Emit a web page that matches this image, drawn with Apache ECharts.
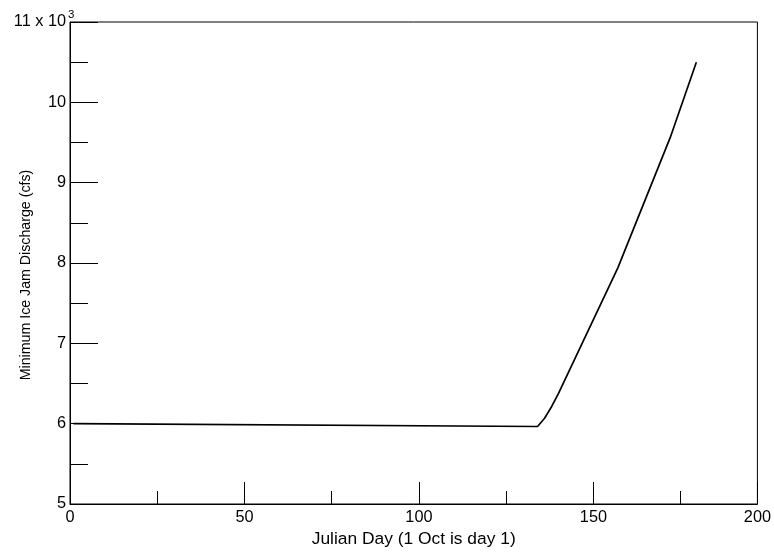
<!DOCTYPE html>
<html>
<head>
<meta charset="utf-8">
<script src="https://cdn.jsdelivr.net/npm/echarts@6/dist/echarts.min.js"></script>
<style>html,body{margin:0;padding:0;background:#fff}#c{width:774px;height:553px}</style>
</head>
<body>
<div id="c"></div>
<script>
var days = [1, 134, 136, 138, 140, 157, 172, 179.5];
var discharge = [6000, 5965, 6067, 6211, 6378, 7940, 9560, 10500];
var xTickLabels = ['0', '50', '100', '150', '200'];
var yTickLabels = ['5', '6', '7', '8', '9', '10', '11 x 10'];
var yExponent = '3';
var xTitle = 'Julian Day (1 Oct is day 1)';
var yTitle = 'Minimum Ice Jam Discharge (cfs)';

var chart = echarts.init(document.getElementById('c'));
var font = 'Liberation Sans, Arial, sans-serif';
var X_MAX = 197;
chart.setOption({
  animation: false,
  backgroundColor: '#fff',
  grid: { left: 70, right: 15, top: 22, bottom: 49, show: true, borderColor: '#000', borderWidth: 1, containLabel: false },
  xAxis: [{
    type: 'value', min: 0, max: X_MAX, interval: 50,
    name: xTitle, nameLocation: 'middle', nameGap: 25,
    nameTextStyle: { fontFamily: font, fontSize: 17.4, color: '#000' },
    axisLine: { show: true, lineStyle: { color: '#000', width: 1 } },
    axisTick: { show: true, inside: true, length: 22, lineStyle: { color: '#000', width: 1 } },
    axisLabel: { fontFamily: font, fontSize: 16.3, color: '#000', margin: 6, showMaxLabel: true, showMinLabel: true,
      formatter: function (v, i) { return xTickLabels[i] !== undefined ? xTickLabels[i] : ''; } },
    splitLine: { show: false }
  }, {
    type: 'value', min: 0, max: X_MAX, interval: 25, position: 'bottom',
    axisLine: { show: false },
    axisTick: { show: true, inside: true, length: 13, lineStyle: { color: '#000', width: 1 } },
    axisLabel: { show: false },
    splitLine: { show: false }
  }],
  yAxis: {
    type: 'value', min: 5000, max: 11000, interval: 1000,
    axisLine: { show: true, lineStyle: { color: '#000', width: 1 } },
    axisTick: { show: true, inside: true, length: 28, lineStyle: { color: '#000', width: 1 } },
    minorTick: { show: true, splitNumber: 2, length: 18, lineStyle: { color: '#000', width: 1 } },
    axisLabel: { fontFamily: font, fontSize: 16.3, color: '#000', margin: 4,
      formatter: function (v, i) { return yTickLabels[i]; } },
    splitLine: { show: false }
  },
  graphic: [
    { type: 'text', left: 68, top: 9, style: { text: yExponent, font: '11.5px ' + font, fill: '#000' } },
    { type: 'text', x: 26, y: 275, rotation: Math.PI / 2,
      style: { text: yTitle, font: '14.2px ' + font, fill: '#000', align: 'center', verticalAlign: 'middle' } }
  ],
  series: [{
    type: 'line', xAxisIndex: 0,
    data: days.map(function (d, i) { return [d, discharge[i]]; }),
    showSymbol: false, symbol: 'none',
    lineStyle: { color: '#000', width: 1.7 }
  }]
});
</script>
</body>
</html>
